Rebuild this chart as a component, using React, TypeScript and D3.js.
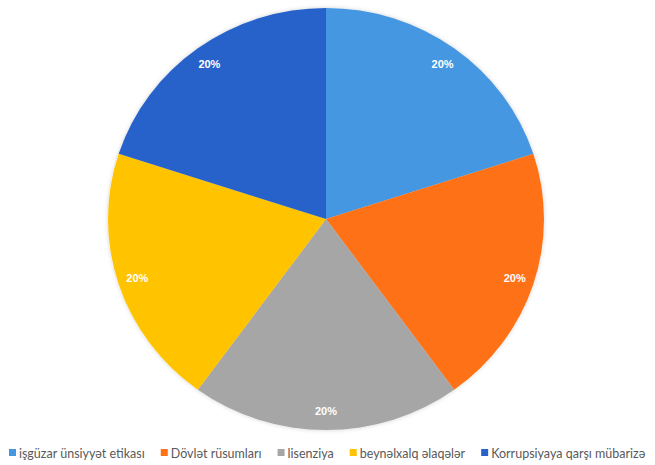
import React, { useEffect, useRef } from "react";
import * as d3 from "d3";

const categories = [
  "işgüzar ünsiyyət etikası",
  "Dövlət rüsumları",
  "lisenziya",
  "beynəlxalq əlaqələr",
  "Korrupsiyaya qarşı mübarizə",
];
const values = [20, 20, 20, 20, 20];
const colors = ["#4597E2", "#FF7112", "#A6A6A6", "#FFC300", "#2762C9"];

const W = 655;
const H = 465;

export default function App() {
  const ref = useRef<SVGSVGElement | null>(null);

  useEffect(() => {
    const svg = d3.select(ref.current);
    svg.selectAll("*").remove();

    const cx = 326;
    const cy = 219;
    const rx = 218;
    const ry = 211;

    const defs = svg.append("defs");
    const f = defs
      .append("filter")
      .attr("id", "shadow")
      .attr("x", "-10%")
      .attr("y", "-10%")
      .attr("width", "120%")
      .attr("height", "120%");
    f.append("feDropShadow")
      .attr("dx", 0)
      .attr("dy", 0)
      .attr("stdDeviation", 2)
      .attr("flood-color", "#000")
      .attr("flood-opacity", 0.18);

    const data = categories.map((c, i) => ({ name: c, value: values[i], color: colors[i] }));
    const pie = d3
      .pie<any>()
      .sort(null)
      .value((d) => d.value)
      .startAngle(0)
      .endAngle(2 * Math.PI);
    const arcs = pie(data);
    const arc = d3.arc<any>().innerRadius(0).outerRadius(rx);

    const g = svg
      .append("g")
      .attr("transform", `translate(${cx},${cy}) scale(1,${ry / rx})`)
      .attr("filter", "url(#shadow)");
    g.selectAll("path")
      .data(arcs)
      .join("path")
      .attr("d", arc as any)
      .attr("fill", (d: any) => d.data.color);

    const total = d3.sum(values);
    const labelR = 0.91;
    svg
      .append("g")
      .selectAll("text")
      .data(arcs)
      .join("text")
      .attr("x", (d: any) => cx + Math.sin((d.startAngle + d.endAngle) / 2) * rx * labelR)
      .attr("y", (d: any) => cy - Math.cos((d.startAngle + d.endAngle) / 2) * ry * labelR)
      .attr("text-anchor", "middle")
      .attr("dominant-baseline", "central")
      .attr("font-family", "'Liberation Sans', Arial, sans-serif")
      .attr("font-weight", "bold")
      .attr("font-size", 11)
      .attr("fill", "#fff")
      .text((d: any) => `${Math.round((d.data.value / total) * 100)}%`);

    // Legend
    const lg = svg.append("g");
    const ly = 453;
    const items = lg
      .selectAll("g")
      .data(data)
      .join("g");
    items
      .append("rect")
      .attr("width", 7)
      .attr("height", 7)
      .attr("y", ly - 4)
      .attr("fill", (d) => d.color);
    const texts = items
      .append("text")
      .attr("y", ly)
      .attr("dominant-baseline", "central")
      .attr("font-family", "Lato, 'Open Sans', sans-serif")
      .attr("font-size", 12.5)
      .attr("fill", "#595959")
      .text((d) => d.name);
    let x = 9;
    items.each(function (_d, i) {
      const t = texts.nodes()[i] as SVGTextElement;
      const w = t.getComputedTextLength();
      d3.select(this).select("rect").attr("x", x);
      d3.select(this).select("text").attr("x", x + 10);
      x += 10 + w + 16;
    });
  }, []);

  return (
    <svg
      ref={ref}
      width={W}
      height={H}
      style={{ display: "block", position: "absolute", left: 0, top: 0, background: "#fff" }}
    />
  );
}
